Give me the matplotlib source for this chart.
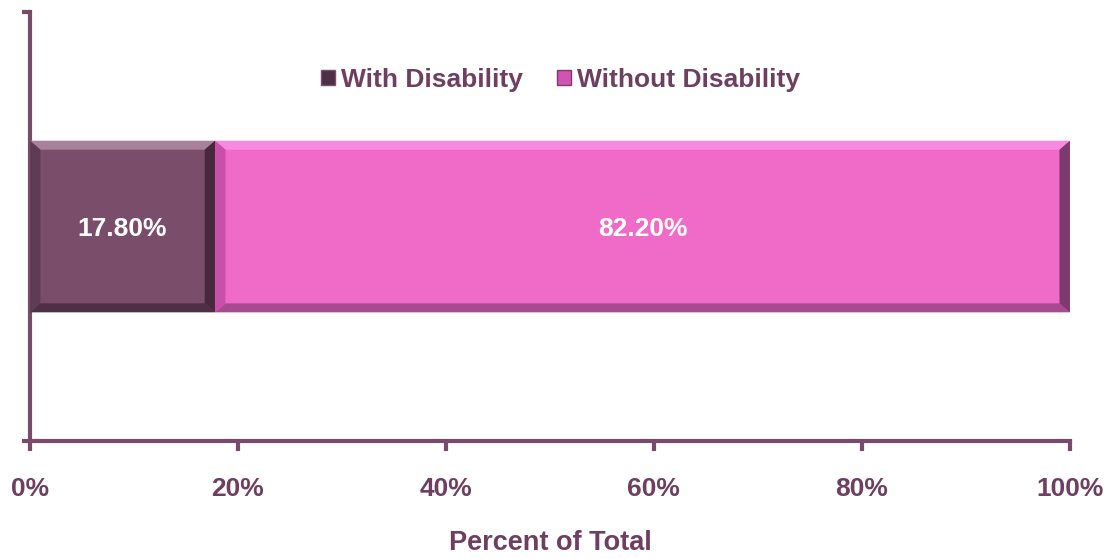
import matplotlib.pyplot as plt
from matplotlib.patches import Polygon, Patch
import numpy as np

plt.rcParams['font.family'] = ['Liberation Sans', 'DejaVu Sans']

categories = ["Total"]
series_names = ["With Disability", "Without Disability"]
with_disability = [17.8]
without_disability = [82.2]
bar_labels = ["17.80%", "82.20%"]
xtick_values = [0, 20, 40, 60, 80, 100]
xtick_labels = ["0%", "20%", "40%", "60%", "80%", "100%"]

text_col = "#6e3f60"
axis_col = "#7a4a6a"
fills = ["#7a4d6b", "#f06ac8"]
# top, bottom, left, right shades for the bevel look
bevels = [["#a7809a", "#4e2f45", "#5e3c55", "#46293d"],
          ["#f78ae0", "#a84a90", "#c850a8", "#7c3a6e"]]


def bevel(ax, left, width, y, h, shades, dx=1.0, dy=0.021):
    x0, x1 = left, left + width
    y0, y1 = y - h / 2, y + h / 2
    top = [(x0, y1), (x1, y1), (x1 - dx, y1 - dy), (x0 + dx, y1 - dy)]
    bot = [(x0, y0), (x1, y0), (x1 - dx, y0 + dy), (x0 + dx, y0 + dy)]
    lft = [(x0, y0), (x0, y1), (x0 + dx, y1 - dy), (x0 + dx, y0 + dy)]
    rgt = [(x1, y0), (x1, y1), (x1 - dx, y1 - dy), (x1 - dx, y0 + dy)]
    for pts, c in zip([top, bot, lft, rgt], shades):
        ax.add_patch(Polygon(pts, closed=True, facecolor=c, edgecolor="none", zorder=3))


fig = plt.figure(figsize=(11.11, 5.59), dpi=100)
ax = fig.add_axes([0.027, 0.211, 0.936, 0.7675])

y = np.arange(len(categories))
h = 0.4
ax.barh(y, with_disability, height=h, color=fills[0], zorder=2)
ax.barh(y, without_disability, left=with_disability, height=h, color=fills[1], zorder=2)

bevel(ax, 0, with_disability[0], y[0], h, bevels[0])
bevel(ax, with_disability[0], without_disability[0], y[0], h, bevels[1])

ax.text(with_disability[0] / 2, y[0] - 0.005, bar_labels[0], ha="center", va="center",
        color="white", fontsize=19, fontweight="bold", zorder=4)
ax.text(with_disability[0] + without_disability[0] / 2, y[0] - 0.005, bar_labels[1],
        ha="center", va="center", color="white", fontsize=19, fontweight="bold", zorder=4)

ax.set_xlim(0, 100)
ax.set_ylim(-0.5, 0.5)
ax.set_xticks(xtick_values)
ax.set_xticklabels(xtick_labels, fontsize=19, fontweight="bold", color=text_col)
ax.set_yticks([-0.5, 0.5])
ax.set_yticklabels([])
ax.tick_params(axis="x", direction="out", length=7, width=3, color=axis_col, pad=19)
ax.tick_params(axis="y", direction="out", length=6, width=3, color=axis_col)

for s in ["top", "right"]:
    ax.spines[s].set_visible(False)
for s in ["left", "bottom"]:
    ax.spines[s].set_color(axis_col)
    ax.spines[s].set_linewidth(3)

ax.set_xlabel("Percent of Total", fontsize=19.5, fontweight="bold", color=text_col, labelpad=21)

handles = [Patch(facecolor="#4e2f45", edgecolor="#7a4d6b"),
           Patch(facecolor="#d055b0", edgecolor="#7c3a6e")]
leg = ax.legend(handles, series_names, loc="center", bbox_to_anchor=(0.51, 0.842),
                ncol=2, frameon=False, handlelength=0.55, handleheight=0.55,
                handletextpad=0.2, columnspacing=1.3,
                prop={"size": 19, "weight": "bold"})
for t in leg.get_texts():
    t.set_color(text_col)

plt.savefig("out.png", dpi=100)
